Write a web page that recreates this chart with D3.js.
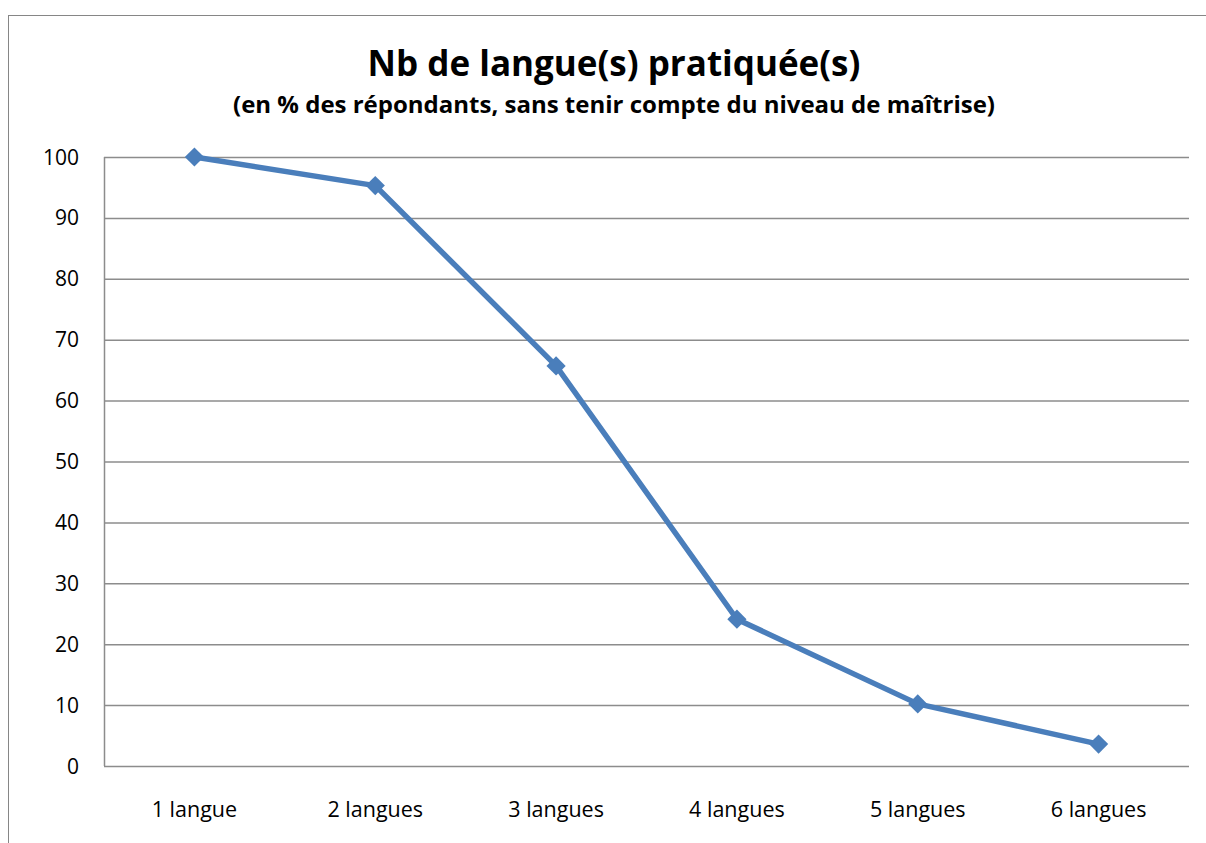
<!DOCTYPE html>
<html><head><meta charset="utf-8">
<script src="https://cdn.jsdelivr.net/npm/d3@7"></script>
<style>body{margin:0;background:#fff;} svg{display:block;}</style>
</head><body>
<svg id="c" width="1206" height="843"></svg>
<script>
const categories = ["1 langue","2 langues","3 langues","4 langues","5 langues","6 langues"];
const values = [100, 95.3, 65.7, 24.1, 10.2, 3.6];
const yTicks = [0,10,20,30,40,50,60,70,80,90,100];
const title = "Nb de langue(s) pratiquée(s)";
const subtitle = "(en % des répondants, sans tenir compte du niveau de maîtrise)";

const svg = d3.select("#c");
const font = "'Open Sans', sans-serif";
svg.append("rect").attr("x",8.5).attr("y",15.5).attr("width",1230).attr("height",900)
  .attr("fill","#fff").attr("stroke","#868686").attr("stroke-width",1);

const L=104, R=1189, T=157, B=766;
const x = d3.scaleBand().domain(categories).range([L,R]);
const y = d3.scaleLinear().domain([0,100]).range([B,T]);

const g = svg.append("g");
g.selectAll("line.grid").data(yTicks.filter(d=>d>0)).join("line")
  .attr("x1",L).attr("x2",R).attr("y1",d=>y(d)+0.5).attr("y2",d=>y(d)+0.5)
  .attr("stroke","#8c8c8c").attr("stroke-width",1.5);
g.append("line").attr("x1",L).attr("x2",R).attr("y1",B+0.5).attr("y2",B+0.5).attr("stroke","#8c8c8c").attr("stroke-width",1.5);
g.append("line").attr("x1",L+0.5).attr("x2",L+0.5).attr("y1",T).attr("y2",B).attr("stroke","#8c8c8c").attr("stroke-width",1.5);

g.selectAll("text.yl").data(yTicks).join("text")
  .attr("x",79).attr("y",d=>y(d)).attr("dy","0.36em").attr("text-anchor","end")
  .attr("font-family",font).attr("font-size",21).attr("fill","#000").text(d=>d);

g.selectAll("text.xl").data(categories).join("text")
  .attr("x",d=>x(d)+x.bandwidth()/2).attr("y",817).attr("text-anchor","middle")
  .attr("font-family",font).attr("font-size",21.5).attr("fill","#000").text(d=>d);

const pts = categories.map((c,i)=>[x(c)+x.bandwidth()/2, y(values[i])]);
g.append("path").attr("d",d3.line()(pts)).attr("fill","none").attr("stroke","#4a7ebb").attr("stroke-width",5.5).attr("stroke-linejoin","round");
g.selectAll("path.m").data(pts).join("path")
  .attr("d",d3.symbol(d3.symbolSquare,185)())
  .attr("transform",d=>`translate(${d[0]},${d[1]}) rotate(45)`)
  .attr("fill","#4a7ebb");

svg.append("text").attr("x",614).attr("y",76).attr("text-anchor","middle")
  .attr("font-family",font).attr("font-weight","bold").attr("font-size",35).text(title);
svg.append("text").attr("x",614).attr("y",113).attr("text-anchor","middle")
  .attr("font-family",font).attr("font-weight","bold").attr("font-size",24).text(subtitle);
</script>
</body></html>
